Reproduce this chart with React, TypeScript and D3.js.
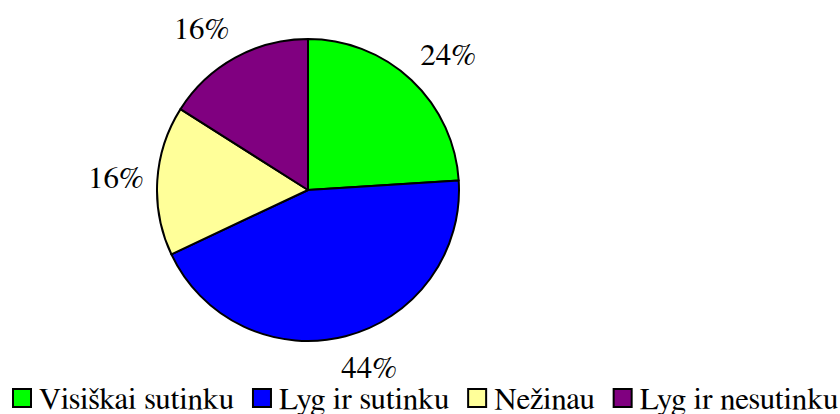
import React, { useEffect, useRef } from "react";
import * as d3 from "d3";

const categories = ["Visiškai sutinku", "Lyg ir sutinku", "Nežinau", "Lyg ir nesutinku"];
const values = [24, 44, 16, 16];
const colors = ["#00FF00", "#0000FF", "#FFFF99", "#800080"];

const W = 840;
const H = 414;
const CX = 308;
const CY = 190;
const R = 151;
const ANCHOR_RX = 166;
const ANCHOR_RY = 172;
const FONT = '"FreeSerif"';
const FS = 31;

export default function App() {
  const ref = useRef<SVGSVGElement>(null);

  useEffect(() => {
    const svg = d3.select(ref.current);
    svg.selectAll("*").remove();

    const total = d3.sum(values);
    const pie = d3.pie<number>().sort(null).value((d) => d);
    const arcs = pie(values);
    const arc = d3.arc<d3.PieArcDatum<number>>().innerRadius(0).outerRadius(R);

    const g = svg.append("g").attr("transform", `translate(${CX},${CY})`);
    g.selectAll("path")
      .data(arcs)
      .enter()
      .append("path")
      .attr("d", arc as any)
      .attr("fill", (_d, i) => colors[i])
      .attr("stroke", "#000")
      .attr("stroke-width", 2)
      .attr("stroke-linejoin", "round");

    const clamp = (v: number) => Math.max(-1, Math.min(1, 3 * v));
    const hb = FS * 0.7;
    arcs.forEach((d) => {
      const a = (d.startAngle + d.endAngle) / 2;
      const s = Math.sin(a);
      const c = Math.cos(a);
      const t = g
        .append("text")
        .attr("text-anchor", "middle")
        .attr("font-family", FONT)
        .attr("font-size", FS)
        .attr("fill", "#000")
        .text(`${Math.round((d.value / total) * 100)}%`);
      const w = (t.node() as SVGTextElement).getComputedTextLength();
      const x = ANCHOR_RX * s + (w / 2) * clamp(s) * 0.95;
      const y = -ANCHOR_RY * c - (hb / 2) * clamp(c);
      t.attr("x", x).attr("y", y + hb / 2);
    });

    // Legend
    const lg = svg.append("g");
    const sq = 18;
    const gapSq = 8;
    const gapItem = 19;
    const baseline = 409;
    let x = 13;
    categories.forEach((c, i) => {
      lg.append("rect")
        .attr("x", x)
        .attr("y", baseline - sq - 2)
        .attr("width", sq)
        .attr("height", sq)
        .attr("fill", colors[i])
        .attr("stroke", "#000")
        .attr("stroke-width", 2);
      const t = lg
        .append("text")
        .attr("x", x + sq + gapSq)
        .attr("y", baseline)
        .attr("font-family", FONT)
        .attr("font-size", FS)
        .attr("fill", "#000")
        .text(c);
      const w = (t.node() as SVGTextElement).getComputedTextLength();
      x = x + sq + gapSq + w + gapItem;
    });
  }, []);

  return (
    <svg
      ref={ref}
      width={W}
      height={H}
      style={{ position: "absolute", left: 0, top: 0, background: "#fff" }}
    />
  );
}
